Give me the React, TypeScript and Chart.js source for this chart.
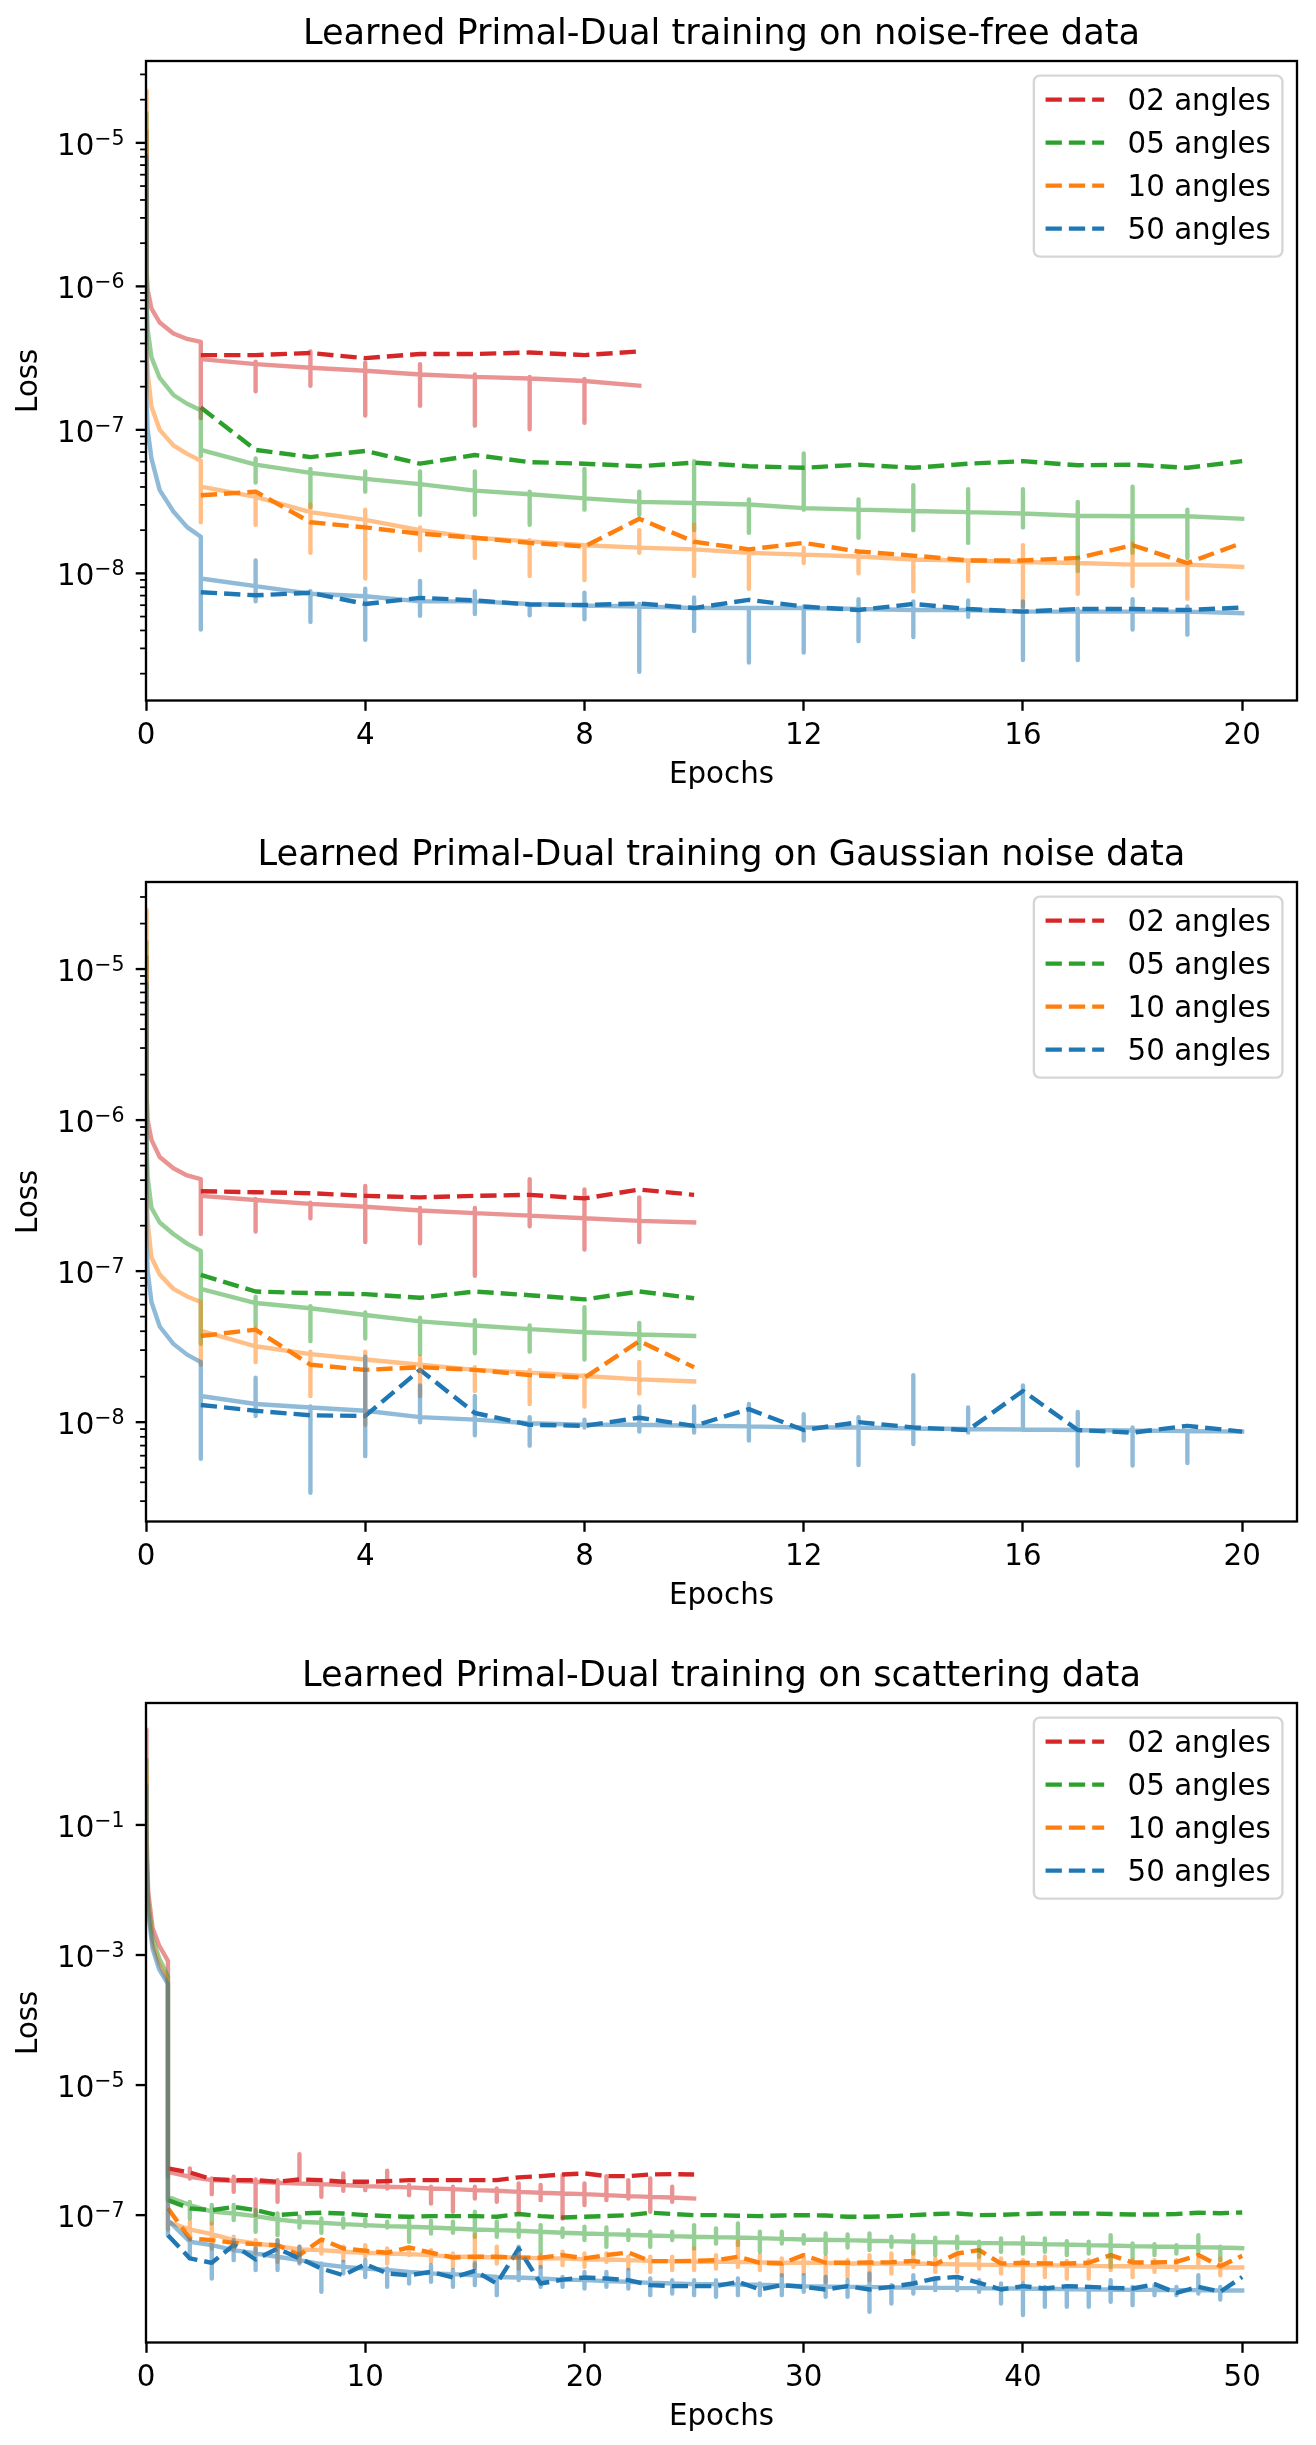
import React, { useEffect, useRef } from 'react';
import { Chart, registerables } from 'chart.js';

Chart.register(...registerables);

const FONT = "'DejaVu Sans', 'Liberation Sans', sans-serif";
const LABELS = ['02 angles', '05 angles', '10 angles', '50 angles'];
const VAL_COLORS = ['#d62728', '#2ca02c', '#ff7f0e', '#1f77b4'];
const TRAIN_COLORS = ['rgba(214,39,40,0.5)', 'rgba(44,160,44,0.5)', 'rgba(255,127,14,0.5)', 'rgba(31,119,180,0.5)'];
const LW = 4.4;
const DASH = [16.3, 7.0];

// ---------- axis ticks ----------
const X_TICKS_20 = [0, 4, 8, 12, 16, 20];
const X_TICKS_50 = [0, 10, 20, 30, 40, 50];
const Y_MAJOR_NF = [1e-8, 1e-7, 1e-6, 1e-5];
const Y_MAJOR_GN = [1e-8, 1e-7, 1e-6, 1e-5];
const Y_MAJOR_SC = [1e-7, 1e-5, 1e-3, 1e-1];

// ---------- chart 1 : noise-free ----------
const NF_EARLY_X = [0, 0.01, 0.03, 0.1, 0.25, 0.5, 0.75, 1];
const NF_RED_EARLY = [1.2e-5, 1.3e-6, 9.5e-7, 7.0e-7, 5.6e-7, 4.7e-7, 4.3e-7, 4.1e-7];
const NF_RED_TRAIN = [3.11e-7, 2.87e-7, 2.71e-7, 2.58e-7, 2.43e-7, 2.34e-7, 2.28e-7, 2.19e-7, 2.03e-7];
const NF_RED_HI = [3.11e-7, 2.99e-7, 3.52e-7, 2.94e-7, 2.87e-7, 2.43e-7, 2.34e-7, 2.26e-7, null];
const NF_RED_LO = [1.21e-7, 1.86e-7, 2.03e-7, 1.26e-7, 1.47e-7, 1.07e-7, 1.01e-7, 1.12e-7, null];
const NF_RED_VAL = [3.32e-7, 3.32e-7, 3.43e-7, 3.16e-7, 3.38e-7, 3.38e-7, 3.46e-7, 3.32e-7, 3.52e-7];

const NF_GREEN_EARLY = [1.6e-5, 8e-7, 5e-7, 3.2e-7, 2.3e-7, 1.75e-7, 1.52e-7, 1.37e-7];
const NF_GREEN_TRAIN = [7.25e-8, 5.72e-8, 5.01e-8, 4.55e-8, 4.19e-8, 3.77e-8, 3.56e-8, 3.33e-8, 3.15e-8, 3.09e-8, 3.02e-8, 2.85e-8, 2.78e-8, 2.72e-8, 2.67e-8, 2.61e-8, 2.52e-8, 2.50e-8, 2.50e-8, 2.40e-8];
const NF_GREEN_HI = [7.25e-8, 6.31e-8, 5.35e-8, 5.14e-8, 5.14e-8, 5.14e-8, 3.71e-8, 5.35e-8, 3.71e-8, 6.05e-8, 3.28e-8, 6.85e-8, 3.28e-8, 4.12e-8, 3.86e-8, 3.86e-8, 3.15e-8, 4.02e-8, 2.78e-8, null];
const NF_GREEN_LO = [6.57e-8, 4.29e-8, 2.90e-8, 3.71e-8, 2.56e-8, 2.56e-8, 2.18e-8, 2.78e-8, 2.56e-8, 2.00e-8, 1.92e-8, 2.78e-8, 1.77e-8, 2.00e-8, 1.63e-8, 2.09e-8, 1.04e-8, 1.39e-8, 1.28e-8, null];
const NF_GREEN_VAL = [1.43e-7, 7.25e-8, 6.46e-8, 7.13e-8, 5.81e-8, 6.68e-8, 5.96e-8, 5.81e-8, 5.58e-8, 5.91e-8, 5.58e-8, 5.44e-8, 5.72e-8, 5.44e-8, 5.81e-8, 6.05e-8, 5.67e-8, 5.72e-8, 5.44e-8, 6.05e-8];

const NF_ORANGE_EARLY = [2.3e-5, 4e-7, 2.5e-7, 1.45e-7, 1.0e-7, 7.8e-8, 6.8e-8, 6.1e-8];
const NF_ORANGE_TRAIN = [4.02e-8, 3.41e-8, 2.67e-8, 2.36e-8, 2.00e-8, 1.77e-8, 1.67e-8, 1.57e-8, 1.51e-8, 1.47e-8, 1.39e-8, 1.35e-8, 1.31e-8, 1.25e-8, 1.23e-8, 1.20e-8, 1.18e-8, 1.15e-8, 1.15e-8, 1.11e-8];
const NF_ORANGE_HI = [4.02e-8, 3.71e-8, 3.02e-8, 2.78e-8, 2.09e-8, 1.77e-8, 1.70e-8, 1.57e-8, 2.00e-8, 2.18e-8, 1.33e-8, 1.51e-8, 1.39e-8, 1.28e-8, 1.23e-8, 1.57e-8, 1.23e-8, 1.63e-8, 1.18e-8, null];
const NF_ORANGE_LO = [2.27e-8, 2.18e-8, 1.39e-8, 9.21e-9, 1.45e-8, 1.28e-8, 9.6e-9, 8.99e-9, 1.39e-8, 9.6e-9, 7.82e-9, 1.18e-8, 1.0e-8, 7.51e-9, 8.84e-9, 5.87e-9, 7.21e-9, 8.15e-9, 6.64e-9, null];
const NF_ORANGE_VAL = [3.50e-8, 3.71e-8, 2.27e-8, 2.09e-8, 1.89e-8, 1.77e-8, 1.63e-8, 1.54e-8, 2.40e-8, 1.66e-8, 1.47e-8, 1.63e-8, 1.42e-8, 1.33e-8, 1.23e-8, 1.23e-8, 1.28e-8, 1.57e-8, 1.18e-8, 1.63e-8];

const NF_BLUE_EARLY = [8e-6, 1.6e-7, 1.0e-7, 6.3e-8, 3.8e-8, 2.7e-8, 2.1e-8, 1.8e-8];
const NF_BLUE_TRAIN = [9.21e-9, 8.15e-9, 7.21e-9, 6.92e-9, 6.38e-9, 6.38e-9, 6.12e-9, 5.97e-9, 5.87e-9, 5.73e-9, 5.73e-9, 5.73e-9, 5.64e-9, 5.55e-9, 5.55e-9, 5.41e-9, 5.41e-9, 5.41e-9, 5.41e-9, 5.28e-9];
const NF_BLUE_HI = [9.21e-9, 1.23e-8, 7.51e-9, 7.82e-9, 8.84e-9, 7.51e-9, 5.87e-9, 7.33e-9, 6.12e-9, 6.8e-9, 5.64e-9, 5.87e-9, 6.6e-9, 6.38e-9, 6.48e-9, 6.38e-9, 5.64e-9, 6.6e-9, 5.87e-9, null];
const NF_BLUE_LO = [4.06e-9, 6.38e-9, 4.59e-9, 3.45e-9, 5.07e-9, 5.2e-9, 5.1e-9, 4.79e-9, 2.06e-9, 3.96e-9, 2.39e-9, 2.81e-9, 3.37e-9, 3.6e-9, 4.98e-9, 2.49e-9, 2.49e-9, 4.06e-9, 3.74e-9, null];
const NF_BLUE_VAL = [7.39e-9, 7.03e-9, 7.33e-9, 6.12e-9, 6.75e-9, 6.48e-9, 6.07e-9, 6.02e-9, 6.17e-9, 5.73e-9, 6.54e-9, 5.87e-9, 5.55e-9, 6.12e-9, 5.64e-9, 5.41e-9, 5.64e-9, 5.64e-9, 5.55e-9, 5.78e-9];

// ---------- chart 2 : Gaussian noise ----------
const GN_EARLY_X = [0, 0.01, 0.03, 0.1, 0.25, 0.5, 0.75, 1];
const GN_RED_EARLY = [1.2e-5, 1.5e-6, 1.0e-6, 7.4e-7, 5.7e-7, 4.8e-7, 4.3e-7, 4.06e-7];
const GN_RED_TRAIN = [3.15e-7, 2.96e-7, 2.79e-7, 2.67e-7, 2.52e-7, 2.42e-7, 2.33e-7, 2.24e-7, 2.15e-7, 2.10e-7];
const GN_RED_HI = [3.15e-7, 3.0e-7, 2.84e-7, 3.66e-7, 2.62e-7, 2.62e-7, 4.06e-7, 3.47e-7, 3.08e-7, null];
const GN_RED_LO = [1.76e-7, 1.83e-7, 2.24e-7, 1.56e-7, 1.53e-7, 9.31e-8, 1.98e-7, 1.39e-7, 1.56e-7, null];
const GN_RED_VAL = [3.38e-7, 3.33e-7, 3.28e-7, 3.15e-7, 3.08e-7, 3.15e-7, 3.20e-7, 3.03e-7, 3.47e-7, 3.20e-7];

const GN_GREEN_EARLY = [1.5e-5, 7e-7, 4.2e-7, 2.62e-7, 2.1e-7, 1.76e-7, 1.52e-7, 1.36e-7];
const GN_GREEN_TRAIN = [7.63e-8, 6.15e-8, 5.68e-8, 5.12e-8, 4.65e-8, 4.37e-8, 4.13e-8, 3.94e-8, 3.81e-8, 3.72e-8];
const GN_GREEN_HI = [7.63e-8, 6.77e-8, 5.87e-8, 5.33e-8, 4.92e-8, 4.73e-8, 4.37e-8, 5.77e-8, 4.54e-8, null];
const GN_GREEN_LO = [3.30e-8, 4.37e-8, 3.44e-8, 3.58e-8, 2.82e-8, 2.86e-8, 2.93e-8, 2.60e-8, 3.05e-8, null];
const GN_GREEN_VAL = [9.46e-8, 7.33e-8, 7.15e-8, 7.04e-8, 6.66e-8, 7.33e-8, 6.93e-8, 6.50e-8, 7.33e-8, 6.61e-8];

const GN_ORANGE_EARLY = [2.45e-5, 3.5e-7, 2.1e-7, 1.23e-7, 9.5e-8, 7.63e-8, 6.8e-8, 6.25e-8];
const GN_ORANGE_TRAIN = [4.03e-8, 3.18e-8, 2.82e-8, 2.60e-8, 2.40e-8, 2.22e-8, 2.13e-8, 2.02e-8, 1.92e-8, 1.86e-8];
const GN_ORANGE_HI = [4.03e-8, 4.20e-8, 2.93e-8, 2.93e-8, 2.71e-8, 2.31e-8, 2.22e-8, 2.05e-8, 2.50e-8, null];
const GN_ORANGE_LO = [2.40e-8, 2.50e-8, 1.49e-8, 9.61e-9, 1.49e-8, 1.61e-8, 1.32e-8, 1.27e-8, 1.55e-8, null];
const GN_ORANGE_VAL = [3.72e-8, 4.10e-8, 2.40e-8, 2.22e-8, 2.31e-8, 2.22e-8, 2.05e-8, 1.97e-8, 3.44e-8, 2.31e-8];

const GN_BLUE_EARLY = [8e-6, 1.6e-7, 1.0e-7, 6.25e-8, 4.3e-8, 3.3e-8, 2.8e-8, 2.5e-8];
const GN_BLUE_TRAIN = [1.49e-8, 1.32e-8, 1.25e-8, 1.19e-8, 1.08e-8, 1.04e-8, 9.84e-9, 9.61e-9, 9.61e-9, 9.46e-9, 9.38e-9, 9.23e-9, 9.23e-9, 9.09e-9, 9.02e-9, 8.95e-9, 8.87e-9, 8.80e-9, 8.73e-9, 8.66e-9];
const GN_BLUE_HI = [1.49e-8, 1.97e-8, 1.27e-8, 2.71e-8, 1.75e-8, 1.49e-8, 1.08e-8, 1.04e-8, 1.27e-8, 1.27e-8, 1.32e-8, 1.13e-8, 1.08e-8, 2.05e-8, 1.25e-8, 1.75e-8, 1.17e-8, 9.23e-9, 8.73e-9, null];
const GN_BLUE_LO = [5.72e-9, 1.10e-8, 3.41e-9, 5.96e-9, 1.0e-8, 8.19e-9, 6.99e-9, 9.23e-9, 8.66e-9, 8.53e-9, 7.57e-9, 7.57e-9, 5.20e-9, 7.16e-9, 8.53e-9, 8.87e-9, 5.17e-9, 5.17e-9, 5.37e-9, null];
const GN_BLUE_VAL = [1.30e-8, 1.19e-8, 1.11e-8, 1.10e-8, 2.22e-8, 1.15e-8, 9.61e-9, 9.46e-9, 1.07e-8, 9.46e-9, 1.22e-8, 8.87e-9, 1.0e-8, 9.23e-9, 8.87e-9, 1.61e-8, 8.87e-9, 8.53e-9, 9.46e-9, 8.66e-9];

// ---------- chart 3 : scattering ----------
const SC_EARLY_X = [0, 0.02, 0.05, 0.1, 0.3, 0.6, 1];
const SC_RED_EARLY = [2.9, 0.1, 3.35e-2, 9.3e-3, 2.6e-3, 1.4e-3, 8.1e-4];
const SC_RED_TRAIN = [4.64e-7, 3.89e-7, 3.45e-7, 3.37e-7, 3.26e-7, 3.14e-7, 3.07e-7, 3.0e-7, 2.9e-7, 2.79e-7, 2.73e-7, 2.67e-7, 2.57e-7, 2.51e-7, 2.42e-7, 2.37e-7, 2.28e-7, 2.21e-7, 2.15e-7, 2.10e-7, 2.03e-7, 1.96e-7, 1.91e-7, 1.87e-7, 1.80e-7];
const SC_RED_HI = [4.64e-7, 5.22e-7, 3.66e-7, 3.89e-7, 3.54e-7, 3.45e-7, 8.68e-7, 3.26e-7, 4.38e-7, 3.07e-7, 4.81e-7, 2.9e-7, 2.73e-7, 2.73e-7, 2.73e-7, 2.57e-7, 3.07e-7, 2.9e-7, 4.12e-7, 3.07e-7, 3.98e-7, 3.45e-7, 3.66e-7, 2.73e-7, null];
const SC_RED_LO = [3.89e-7, 3.66e-7, 2.10e-7, 2.28e-7, 1.0e-7, 1.60e-7, 3.07e-7, 1.91e-7, 2.37e-7, 2.42e-7, 2.57e-7, 2.03e-7, 1.51e-7, 1.13e-7, 1.80e-7, 1.60e-7, 1.13e-7, 1.70e-7, 8.88e-8, 1.43e-7, 1.70e-7, 1.80e-7, 1.13e-7, 1.60e-7, null];
const SC_RED_VAL = [5.22e-7, 4.53e-7, 3.58e-7, 3.45e-7, 3.45e-7, 3.26e-7, 3.54e-7, 3.45e-7, 3.26e-7, 3.26e-7, 3.33e-7, 3.45e-7, 3.45e-7, 3.45e-7, 3.45e-7, 3.45e-7, 3.80e-7, 3.98e-7, 4.22e-7, 4.38e-7, 3.98e-7, 3.98e-7, 4.22e-7, 4.27e-7, 4.22e-7];

const SC_GREEN_EARLY = [1.0, 6e-2, 1.95e-2, 6.5e-3, 1.8e-3, 8.9e-4, 4.7e-4];
const SC_GREEN_TRAIN = [1.91e-7, 1.43e-7, 1.13e-7, 1.06e-7, 9.66e-8, 8.58e-8, 7.89e-8, 7.62e-8, 7.27e-8, 7.02e-8, 6.77e-8, 6.62e-8, 6.46e-8, 6.23e-8, 6.02e-8, 5.88e-8, 5.74e-8, 5.54e-8, 5.35e-8, 5.23e-8, 5.10e-8, 4.98e-8, 4.86e-8, 4.75e-8, 4.64e-8, 4.59e-8, 4.54e-8, 4.43e-8, 4.32e-8, 4.23e-8, 4.18e-8, 4.13e-8, 4.03e-8, 3.98e-8, 3.89e-8, 3.84e-8, 3.80e-8, 3.75e-8, 3.71e-8, 3.66e-8, 3.58e-8, 3.54e-8, 3.46e-8, 3.41e-8, 3.34e-8, 3.29e-8, 3.26e-8, 3.22e-8, 3.18e-8, 3.11e-8];
const SC_GREEN_HI = [1.91e-7, 1.60e-7, 1.43e-7, 1.43e-7, 1.19e-7, 1.06e-7, 9.43e-8, 8.88e-8, 8.88e-8, 8.58e-8, 7.89e-8, 8.38e-8, 8.18e-8, 7.89e-8, 1.13e-7, 7.89e-8, 7.44e-8, 7.02e-8, 6.23e-8, 6.62e-8, 6.46e-8, 5.88e-8, 5.54e-8, 5.54e-8, 7.02e-8, 6.23e-8, 7.44e-8, 5.54e-8, 5.54e-8, 4.92e-8, 5.23e-8, 5.04e-8, 5.23e-8, 4.64e-8, 4.92e-8, 4.48e-8, 4.64e-8, 3.89e-8, 4.38e-8, 4.54e-8, 4.38e-8, 3.98e-8, 3.89e-8, 4.92e-8, 3.66e-8, 3.58e-8, 3.46e-8, 4.92e-8, 3.26e-8, null];
const SC_GREEN_LO = [1.70e-7, 8.88e-8, 7.44e-8, 8.38e-8, 5.54e-8, 4.92e-8, 6.46e-8, 5.35e-8, 6.46e-8, 6.77e-8, 6.46e-8, 3.89e-8, 5.23e-8, 5.35e-8, 4.64e-8, 4.64e-8, 4.64e-8, 2.57e-8, 4.64e-8, 4.13e-8, 3.26e-8, 4.13e-8, 3.26e-8, 4.13e-8, 3.07e-8, 3.66e-8, 3.46e-8, 2.73e-8, 3.66e-8, 3.66e-8, 2.57e-8, 3.18e-8, 2.90e-8, 3.26e-8, 2.57e-8, 2.43e-8, 3.07e-8, 2.29e-8, 2.73e-8, 2.57e-8, 2.73e-8, 2.43e-8, 2.57e-8, 1.60e-8, 2.16e-8, 2.43e-8, 2.57e-8, 2.73e-8, 2.03e-8, null];
const SC_GREEN_VAL = [1.70e-7, 1.27e-7, 1.19e-7, 1.34e-7, 1.19e-7, 1.0e-7, 1.06e-7, 1.09e-7, 1.06e-7, 1.0e-7, 9.66e-8, 9.43e-8, 9.66e-8, 9.66e-8, 9.66e-8, 9.43e-8, 1.04e-7, 9.66e-8, 9.21e-8, 9.43e-8, 9.66e-8, 1.0e-7, 1.09e-7, 1.04e-7, 1.0e-7, 1.0e-7, 9.77e-8, 9.66e-8, 9.88e-8, 1.0e-7, 9.88e-8, 9.43e-8, 9.43e-8, 9.66e-8, 1.0e-7, 1.04e-7, 1.06e-7, 1.0e-7, 1.01e-7, 1.04e-7, 1.06e-7, 1.06e-7, 1.06e-7, 1.04e-7, 1.02e-7, 1.02e-7, 1.04e-7, 1.09e-7, 1.07e-7, 1.10e-7];

const SC_ORANGE_EARLY = [0.6, 5e-2, 1.6e-2, 5.5e-3, 1.5e-3, 7.3e-4, 3.9e-4];
const SC_ORANGE_TRAIN = [7.89e-8, 6.02e-8, 5.10e-8, 4.13e-8, 3.66e-8, 3.34e-8, 2.96e-8, 2.90e-8, 2.73e-8, 2.64e-8, 2.57e-8, 2.51e-8, 2.43e-8, 2.29e-8, 2.29e-8, 2.23e-8, 2.23e-8, 2.16e-8, 2.16e-8, 2.10e-8, 2.08e-8, 2.03e-8, 1.98e-8, 1.96e-8, 1.94e-8, 1.91e-8, 1.91e-8, 1.89e-8, 1.87e-8, 1.85e-8, 1.85e-8, 1.82e-8, 1.80e-8, 1.80e-8, 1.80e-8, 1.78e-8, 1.76e-8, 1.73e-8, 1.72e-8, 1.70e-8, 1.70e-8, 1.68e-8, 1.66e-8, 1.64e-8, 1.64e-8, 1.62e-8, 1.60e-8, 1.58e-8, 1.58e-8, 1.57e-8];
const SC_ORANGE_HI = [7.89e-8, 7.89e-8, 7.44e-8, 4.64e-8, 4.13e-8, 4.13e-8, 3.26e-8, 4.13e-8, 3.26e-8, 3.46e-8, 3.07e-8, 3.07e-8, 2.90e-8, 2.57e-8, 4.92e-8, 3.26e-8, 2.57e-8, 2.43e-8, 2.73e-8, 2.57e-8, 2.57e-8, 2.29e-8, 2.29e-8, 2.29e-8, 3.07e-8, 2.43e-8, 3.89e-8, 2.43e-8, 2.16e-8, 2.29e-8, 2.29e-8, 2.03e-8, 2.43e-8, 2.57e-8, 2.73e-8, 2.16e-8, 2.43e-8, 2.43e-8, 2.16e-8, 2.03e-8, 2.29e-8, 1.98e-8, 2.03e-8, 2.43e-8, 2.03e-8, 2.03e-8, 2.03e-8, 2.16e-8, 2.16e-8, null];
const SC_ORANGE_LO = [6.02e-8, 4.13e-8, 3.07e-8, 2.90e-8, 2.57e-8, 1.91e-8, 1.91e-8, 2.57e-8, 2.03e-8, 2.29e-8, 1.80e-8, 2.43e-8, 1.91e-8, 1.60e-8, 1.60e-8, 1.80e-8, 1.51e-8, 1.60e-8, 1.70e-8, 1.60e-8, 1.91e-8, 1.51e-8, 1.34e-8, 1.43e-8, 1.43e-8, 1.51e-8, 1.60e-8, 1.43e-8, 1.19e-8, 1.27e-8, 9.43e-9, 1.12e-8, 1.0e-8, 1.27e-8, 1.60e-8, 1.34e-8, 1.34e-8, 1.51e-8, 1.27e-8, 1.0e-8, 1.12e-8, 1.06e-8, 1.06e-8, 1.43e-8, 1.12e-8, 1.34e-8, 1.43e-8, 1.60e-8, 1.19e-8, null];
const SC_ORANGE_VAL = [1.27e-7, 4.38e-8, 4.13e-8, 3.75e-8, 3.58e-8, 3.46e-8, 2.43e-8, 4.23e-8, 3.07e-8, 2.83e-8, 2.64e-8, 3.18e-8, 2.64e-8, 2.23e-8, 2.29e-8, 2.29e-8, 2.23e-8, 2.21e-8, 2.43e-8, 2.16e-8, 2.43e-8, 2.67e-8, 1.96e-8, 1.96e-8, 1.98e-8, 2.03e-8, 2.29e-8, 1.85e-8, 1.80e-8, 2.43e-8, 1.85e-8, 1.85e-8, 1.87e-8, 1.89e-8, 1.98e-8, 1.76e-8, 2.57e-8, 2.90e-8, 1.80e-8, 1.85e-8, 1.80e-8, 1.80e-8, 1.85e-8, 2.43e-8, 1.87e-8, 1.87e-8, 1.91e-8, 2.43e-8, 1.64e-8, 2.37e-8];

const SC_BLUE_EARLY = [0.4, 4e-2, 1.3e-2, 4.6e-3, 1.25e-3, 6e-4, 3.6e-4];
const SC_BLUE_TRAIN = [8.38e-8, 3.89e-8, 3.46e-8, 2.90e-8, 2.57e-8, 2.29e-8, 2.03e-8, 1.76e-8, 1.60e-8, 1.51e-8, 1.43e-8, 1.34e-8, 1.27e-8, 1.24e-8, 1.19e-8, 1.12e-8, 1.10e-8, 1.06e-8, 1.02e-8, 1.0e-8, 9.66e-9, 9.43e-9, 9.1e-9, 8.89e-9, 8.68e-9, 8.68e-9, 8.58e-9, 8.48e-9, 8.28e-9, 8.09e-9, 7.99e-9, 7.89e-9, 7.89e-9, 7.80e-9, 7.71e-9, 7.62e-9, 7.62e-9, 7.53e-9, 7.45e-9, 7.45e-9, 7.36e-9, 7.27e-9, 7.18e-9, 7.18e-9, 7.10e-9, 7.10e-9, 7.02e-9, 7.02e-9, 6.93e-9, 6.93e-9];
const SC_BLUE_HI = [8.38e-8, 4.13e-8, 2.73e-8, 4.13e-8, 3.07e-8, 4.13e-8, 3.26e-8, 1.80e-8, 1.91e-8, 2.03e-8, 1.51e-8, 1.34e-8, 1.70e-8, 1.43e-8, 1.80e-8, 1.12e-8, 3.26e-8, 1.60e-8, 1.12e-8, 1.34e-8, 1.34e-8, 1.43e-8, 1.06e-8, 1.0e-8, 1.0e-8, 1.0e-8, 1.06e-8, 8.89e-9, 1.19e-8, 1.19e-8, 1.12e-8, 1.0e-8, 1.27e-8, 8.38e-9, 1.19e-8, 1.06e-8, 1.12e-8, 1.0e-8, 8.89e-9, 8.89e-9, 7.89e-9, 7.89e-9, 7.89e-9, 1.0e-8, 7.89e-9, 8.38e-9, 7.89e-9, 1.19e-8, 7.89e-9, null];
const SC_BLUE_LO = [4.92e-8, 2.29e-8, 1.06e-8, 2.03e-8, 1.43e-8, 1.43e-8, 1.80e-8, 6.62e-9, 1.27e-8, 1.12e-8, 7.89e-9, 8.89e-9, 9.43e-9, 7.89e-9, 8.38e-9, 5.88e-9, 1.0e-8, 7.89e-9, 7.89e-9, 7.45e-9, 7.89e-9, 7.45e-9, 5.88e-9, 6.23e-9, 5.88e-9, 5.54e-9, 5.88e-9, 5.88e-9, 5.88e-9, 6.62e-9, 5.54e-9, 5.54e-9, 3.26e-9, 4.38e-9, 6.23e-9, 7.02e-9, 7.02e-9, 6.62e-9, 4.38e-9, 2.9e-9, 3.89e-9, 3.89e-9, 3.89e-9, 4.64e-9, 4.13e-9, 5.88e-9, 5.88e-9, 6.23e-9, 5.05e-9, null];
const SC_BLUE_VAL = [4.92e-8, 2.16e-8, 1.85e-8, 3.46e-8, 2.08e-8, 3.07e-8, 2.16e-8, 1.51e-8, 1.19e-8, 1.76e-8, 1.27e-8, 1.19e-8, 1.34e-8, 1.10e-8, 1.39e-8, 8.89e-9, 3.07e-8, 8.89e-9, 1.02e-8, 1.10e-8, 1.06e-8, 1.0e-8, 8.38e-9, 8.09e-9, 8.09e-9, 8.09e-9, 9.43e-9, 7.18e-9, 8.38e-9, 7.89e-9, 7.18e-9, 8.09e-9, 7.18e-9, 7.89e-9, 8.89e-9, 1.06e-8, 1.12e-8, 9.1e-9, 7.18e-9, 8.09e-9, 7.45e-9, 8.09e-9, 7.89e-9, 7.62e-9, 7.45e-9, 8.68e-9, 6.38e-9, 7.89e-9, 6.62e-9, 1.12e-8];

type Series = { early: number[]; train: number[]; hi: (number | null)[]; lo: (number | null)[]; val: number[] };
type PanelCfg = {
  title: string; height: number; xMax: number; xTicks: number[]; yMin: number; yMax: number;
  yMajor: number[]; minor: boolean; earlyX: number[]; series: Series[];
};

const PANELS: PanelCfg[] = [
  {
    title: 'Learned Primal-Dual training on noise-free data', height: 821, xMax: 21, xTicks: X_TICKS_20,
    yMin: 1.3e-9, yMax: 3.72e-5, yMajor: Y_MAJOR_NF, minor: true, earlyX: NF_EARLY_X,
    series: [
      { early: NF_RED_EARLY, train: NF_RED_TRAIN, hi: NF_RED_HI, lo: NF_RED_LO, val: NF_RED_VAL },
      { early: NF_GREEN_EARLY, train: NF_GREEN_TRAIN, hi: NF_GREEN_HI, lo: NF_GREEN_LO, val: NF_GREEN_VAL },
      { early: NF_ORANGE_EARLY, train: NF_ORANGE_TRAIN, hi: NF_ORANGE_HI, lo: NF_ORANGE_LO, val: NF_ORANGE_VAL },
      { early: NF_BLUE_EARLY, train: NF_BLUE_TRAIN, hi: NF_BLUE_HI, lo: NF_BLUE_LO, val: NF_BLUE_VAL },
    ],
  },
  {
    title: 'Learned Primal-Dual training on Gaussian noise data', height: 821, xMax: 21, xTicks: X_TICKS_20,
    yMin: 2.2e-9, yMax: 3.77e-5, yMajor: Y_MAJOR_GN, minor: true, earlyX: GN_EARLY_X,
    series: [
      { early: GN_RED_EARLY, train: GN_RED_TRAIN, hi: GN_RED_HI, lo: GN_RED_LO, val: GN_RED_VAL },
      { early: GN_GREEN_EARLY, train: GN_GREEN_TRAIN, hi: GN_GREEN_HI, lo: GN_GREEN_LO, val: GN_GREEN_VAL },
      { early: GN_ORANGE_EARLY, train: GN_ORANGE_TRAIN, hi: GN_ORANGE_HI, lo: GN_ORANGE_LO, val: GN_ORANGE_VAL },
      { early: GN_BLUE_EARLY, train: GN_BLUE_TRAIN, hi: GN_BLUE_HI, lo: GN_BLUE_LO, val: GN_BLUE_VAL },
    ],
  },
  {
    title: 'Learned Primal-Dual training on scattering data', height: 803, xMax: 52.5, xTicks: X_TICKS_50,
    yMin: 1.1e-9, yMax: 7.5, yMajor: Y_MAJOR_SC, minor: false, earlyX: SC_EARLY_X,
    series: [
      { early: SC_RED_EARLY, train: SC_RED_TRAIN, hi: SC_RED_HI, lo: SC_RED_LO, val: SC_RED_VAL },
      { early: SC_GREEN_EARLY, train: SC_GREEN_TRAIN, hi: SC_GREEN_HI, lo: SC_GREEN_LO, val: SC_GREEN_VAL },
      { early: SC_ORANGE_EARLY, train: SC_ORANGE_TRAIN, hi: SC_ORANGE_HI, lo: SC_ORANGE_LO, val: SC_ORANGE_VAL },
      { early: SC_BLUE_EARLY, train: SC_BLUE_TRAIN, hi: SC_BLUE_HI, lo: SC_BLUE_LO, val: SC_BLUE_VAL },
    ],
  },
];

// Solid training curve: early decay, then for each epoch the level, the vertical spike, back to level.
function trainPoints(earlyX: number[], s: Series) {
  const pts: { x: number; y: number }[] = earlyX.map((x, i) => ({ x, y: s.early[i] }));
  s.train.forEach((v, i) => {
    const e = i + 1;
    const hi = s.hi[i];
    const lo = s.lo[i];
    pts.push({ x: e, y: v });
    if (hi != null) pts.push({ x: e, y: hi });
    if (lo != null) pts.push({ x: e, y: lo });
    pts.push({ x: e, y: v });
  });
  return pts;
}

function valPoints(s: Series) {
  return s.val.map((v, i) => ({ x: i + 1, y: v }));
}

function makeDecor(p: PanelCfg) {
  return {
    id: 'decor',
    afterDraw(chart: any) {
      const { ctx, chartArea: a } = chart;
      const ys = chart.scales.y;
      ctx.save();
      ctx.strokeStyle = '#000';
      ctx.setLineDash([]);
      if (p.minor) {
        ctx.lineWidth = 1.76;
        const k0 = Math.floor(Math.log10(p.yMin));
        const k1 = Math.ceil(Math.log10(p.yMax));
        for (let k = k0; k <= k1; k++) {
          for (let m = 2; m <= 9; m++) {
            const v = m * Math.pow(10, k);
            if (v < p.yMin || v > p.yMax) continue;
            const py = ys.getPixelForValue(v);
            ctx.beginPath();
            ctx.moveTo(a.left - 5.9, py);
            ctx.lineTo(a.left, py);
            ctx.stroke();
          }
        }
      }
      ctx.lineWidth = 2.34;
      ctx.fillStyle = '#000';
      ctx.textAlign = 'left';
      ctx.textBaseline = 'alphabetic';
      p.yMajor.forEach((v) => {
        const py = ys.getPixelForValue(v);
        ctx.beginPath();
        ctx.moveTo(a.left - 10.3, py);
        ctx.lineTo(a.left, py);
        ctx.stroke();
        const e = Math.round(Math.log10(v));
        const sup = (e < 0 ? '\u2212' : '') + Math.abs(e);
        ctx.font = `29.3px ${FONT}`;
        const w10 = ctx.measureText('10').width;
        ctx.font = `20.5px ${FONT}`;
        const ws = ctx.measureText(sup).width;
        const x0 = a.left - 21.5 - w10 - ws;
        ctx.font = `29.3px ${FONT}`;
        ctx.fillText('10', x0, py + 12);
        ctx.font = `20.5px ${FONT}`;
        ctx.fillText(sup, x0 + w10, py + 2);
      });
      ctx.lineWidth = 2.34;
      ctx.strokeRect(a.left, a.top, a.right - a.left, a.bottom - a.top);
      ctx.font = `35.2px ${FONT}`;
      ctx.textAlign = 'center';
      ctx.fillText(p.title, (a.left + a.right) / 2, 44);
      ctx.font = `29.3px ${FONT}`;
      ctx.textAlign = 'left';
      const tw = Math.max(...LABELS.map((t) => ctx.measureText(t).width));
      const pad = 11.7, hl = 58.6, hp = 23.4, rowH = 43;
      const w = pad * 2 + hl + hp + tw;
      const h = 181;
      const right = a.right - 14.6;
      const left = right - w;
      const top = a.top + 14.6;
      ctx.beginPath();
      if (ctx.roundRect) ctx.roundRect(left, top, w, h, 5.9);
      else ctx.rect(left, top, w, h);
      ctx.fillStyle = 'rgba(255,255,255,0.8)';
      ctx.fill();
      ctx.lineWidth = 2.4;
      ctx.strokeStyle = 'rgba(204,204,204,0.8)';
      ctx.stroke();
      LABELS.forEach((t, i) => {
        const cy = top + 24 + rowH * i;
        ctx.beginPath();
        ctx.setLineDash(DASH);
        ctx.lineCap = 'butt';
        ctx.lineWidth = LW;
        ctx.strokeStyle = VAL_COLORS[i];
        ctx.moveTo(left + pad, cy);
        ctx.lineTo(left + pad + hl, cy);
        ctx.stroke();
        ctx.setLineDash([]);
        ctx.fillStyle = '#000';
        ctx.fillText(t, left + pad + hl + hp, cy + 10.7);
      });
      ctx.restore();
    },
  };
}

function makeConfig(p: PanelCfg): any {
  const datasets: any[] = [];
  let idx = 0;
  p.series.forEach((s, i) => {
    datasets.push({
      label: LABELS[i],
      data: valPoints(s),
      borderColor: VAL_COLORS[i],
      backgroundColor: VAL_COLORS[i],
      borderWidth: LW,
      borderDash: DASH,
      borderCapStyle: 'butt',
      borderJoinStyle: 'round',
      pointRadius: 0,
      pointHoverRadius: 0,
      fill: false,
      tension: 0,
      order: -(idx++),
    });
  });
  p.series.forEach((s, i) => {
    datasets.push({
      label: LABELS[i] + ' (train)',
      data: trainPoints(p.earlyX, s),
      borderColor: TRAIN_COLORS[i],
      backgroundColor: TRAIN_COLORS[i],
      borderWidth: LW,
      borderCapStyle: 'square',
      borderJoinStyle: 'round',
      pointRadius: 0,
      pointHoverRadius: 0,
      fill: false,
      tension: 0,
      order: -(idx++),
    });
  });
  const tickFont = { family: FONT, size: 29.3 };
  return {
    type: 'line',
    data: { datasets },
    plugins: [makeDecor(p)],
    options: {
      responsive: false,
      animation: false,
      events: [],
      layout: { padding: { left: 0, right: 19, top: 61, bottom: p.height - 800 } },
      plugins: { legend: { display: false }, tooltip: { enabled: false }, title: { display: false } },
      scales: {
        x: {
          type: 'linear',
          min: 0,
          max: p.xMax,
          afterBuildTicks: (sc: any) => { sc.ticks = p.xTicks.map((v) => ({ value: v })); },
          afterFit: (sc: any) => { sc.height = 99.5; },
          ticks: { autoSkip: false, maxRotation: 0, minRotation: 0, padding: 8.3, color: '#000', font: tickFont },
          grid: { display: true, drawOnChartArea: false, drawTicks: true, tickLength: 10.3, tickWidth: 2.34, tickColor: '#000' },
          border: { display: false },
          title: { display: true, text: 'Epochs', color: '#000', font: tickFont, padding: { top: 0, bottom: 6.9 } },
        },
        y: {
          type: 'logarithmic',
          min: p.yMin,
          max: p.yMax,
          afterFit: (sc: any) => { sc.width = 146; },
          ticks: { display: false },
          grid: { display: false },
          border: { display: false },
          title: { display: true, text: 'Loss', color: '#000', font: tickFont, padding: { top: 11.7, bottom: 0 } },
        },
      },
    },
  };
}

function Panel({ cfg }: { cfg: PanelCfg }) {
  const ref = useRef<HTMLCanvasElement | null>(null);
  useEffect(() => {
    if (!ref.current) return;
    const chart = new Chart(ref.current, makeConfig(cfg));
    return () => chart.destroy();
  }, [cfg]);
  return (
    <canvas
      ref={ref}
      width={1316}
      height={cfg.height}
      style={{ display: 'block', width: 1316, height: cfg.height }}
    />
  );
}

export default function App() {
  return (
    <div style={{ position: 'absolute', left: 0, top: 0, width: 1316, background: '#ffffff' }}>
      {PANELS.map((p, i) => (
        <Panel key={i} cfg={p} />
      ))}
    </div>
  );
}
